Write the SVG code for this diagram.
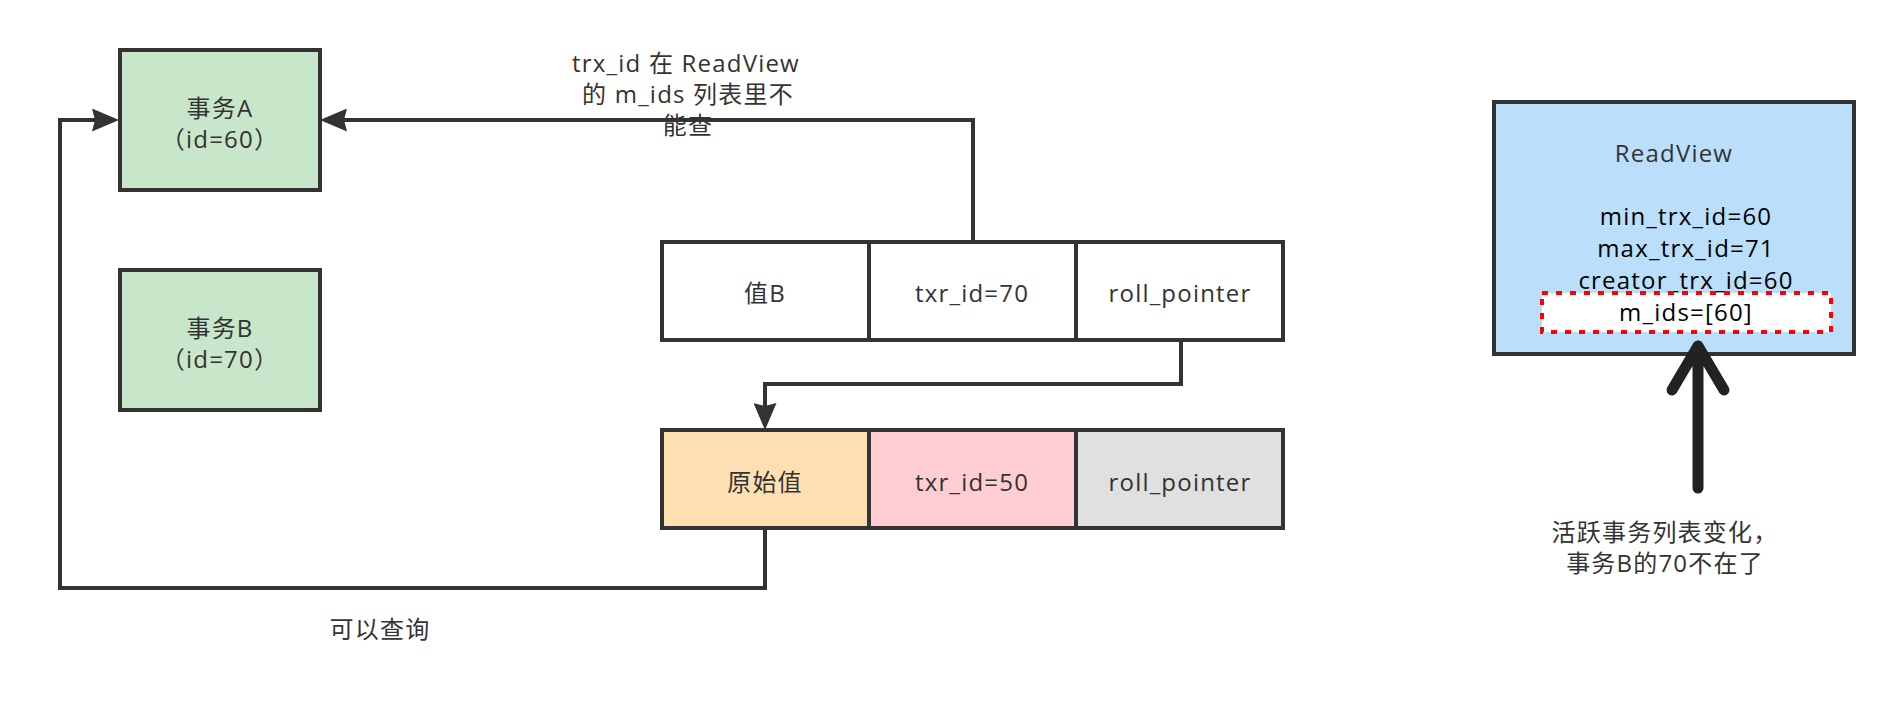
<svg xmlns="http://www.w3.org/2000/svg" width="1904" height="718" viewBox="0 0 1904 718">
<style>
text { font-family: "Open Sans", "Noto Sans CJK SC", sans-serif; font-size: 24px; letter-spacing: 1.2px; fill: #333; text-anchor: middle; }
.box { stroke: #333; stroke-width: 4; }
.dark { fill: #000; }
.conn { fill: none; stroke: #333; stroke-width: 4; }
</style>
<defs>
<marker id="arr" viewBox="0 0 27 23" refX="4" refY="11.5" markerWidth="27" markerHeight="23" markerUnits="userSpaceOnUse" orient="auto">
<path d="M0,0 L27,11.5 L0,23 L3,11.5 Z" fill="#333"/>
</marker>
</defs>
<rect width="1904" height="718" fill="#fff"/>
<g id="txA">
<rect class="box" x="120" y="50" width="200" height="140" fill="#c8e6c9"/>
<text x="220" y="117">事务A</text>
<text x="220" y="148">（id=60）</text>
</g>
<g id="txB">
<rect class="box" x="120" y="270" width="200" height="140" fill="#c8e6c9"/>
<text x="220" y="337">事务B</text>
<text x="220" y="368">（id=70）</text>
</g>
<g id="rowB">
<rect class="box" x="662" y="242" width="207" height="98" fill="#fff"/>
<rect class="box" x="869" y="242" width="207" height="98" fill="#fff"/>
<rect class="box" x="1076" y="242" width="207" height="98" fill="#fff"/>
<text x="765" y="302">值B</text>
<text x="972" y="302">txr_id=70</text>
<text x="1180" y="302">roll_pointer</text>
</g>
<g id="rowOrig">
<rect class="box" x="662" y="430" width="207" height="98" fill="#ffe0b2"/>
<rect class="box" x="869" y="430" width="207" height="98" fill="#ffcdd2"/>
<rect class="box" x="1076" y="430" width="207" height="98" fill="#e0e0e0"/>
<text x="765" y="491">原始值</text>
<text x="972" y="491">txr_id=50</text>
<text x="1180" y="491">roll_pointer</text>
</g>
<g id="readview">
<rect class="box" x="1494" y="102" width="360" height="252" fill="#bbdefb"/>
<text x="1674" y="162">ReadView</text>
<text class="dark" x="1686" y="225">min_trx_id=60</text>
<text class="dark" x="1686" y="257">max_trx_id=71</text>
<text class="dark" x="1686" y="289">creator_trx_id=60</text>
<rect x="1542" y="293" width="289" height="39" fill="#fff" stroke="#ff0000" stroke-width="4" stroke-dasharray="6 8"/>
<text class="dark" x="1686" y="321">m_ids=[60]</text>
</g>
<g id="labels">
<text x="686" y="72">trx_id 在 ReadView</text>
<text x="688" y="103">的 m_ids 列表里不</text>
<text x="688" y="134">能查</text>
<text x="380" y="638">可以查询</text>
<text x="1665" y="541">活跃事务列表变化，</text>
<text x="1665" y="572"> 事务B的70不在了</text>
</g>
<g id="connectors">
<path class="conn" d="M973 242 L973 120 L343 120" marker-end="url(#arr)"/>
<path class="conn" d="M765 528 L765 588 L60 588 L60 120 L96 120" marker-end="url(#arr)"/>
<path class="conn" d="M1181 340 L1181 384 L765 384 L765 407" marker-end="url(#arr)"/>
<path d="M1698 488 L1698 346 M1672 390 L1698 346 L1724 390" fill="none" stroke="#222" stroke-width="11" stroke-linecap="round" stroke-linejoin="round"/>
</g>
</svg>
